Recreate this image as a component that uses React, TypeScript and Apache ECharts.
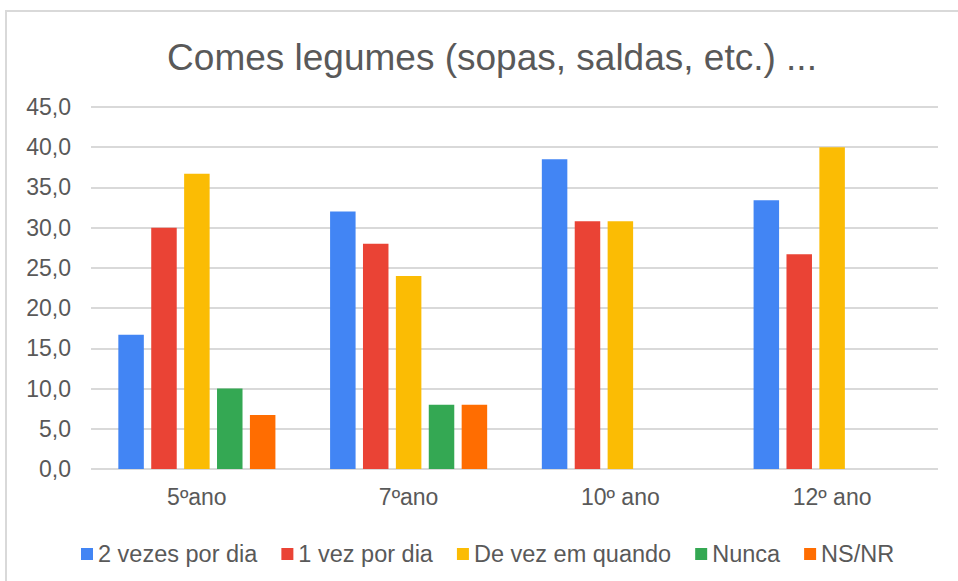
import React, { useEffect, useRef } from "react";
import * as echarts from "echarts";

const categories = ["5ºano", "7ºano", "10º ano", "12º ano"];
const seriesNames = ["2 vezes por dia", "1 vez por dia", "De vez em quando", "Nunca", "NS/NR"];
const duasVezes = [16.7, 32.0, 38.5, 33.4];
const umaVez = [30.0, 28.0, 30.8, 26.7];
const deVezEmQuando = [36.7, 24.0, 30.8, 40.0];
const nunca = [10.0, 8.0, null, null];
const nsnr = [6.7, 8.0, null, null];
const colors = ["#4285F4", "#EA4335", "#FBBC04", "#34A853", "#FF6D01"];
const titleText = "Comes legumes (sopas, saldas, etc.) ...";

export default function App() {
  const ref = useRef<HTMLDivElement>(null);
  useEffect(() => {
    if (!ref.current) return;
    const chart = echarts.init(ref.current, undefined, { renderer: "svg" });
    const values = [duasVezes, umaVez, deVezEmQuando, nunca, nsnr];
    const font = "Liberation Sans, Arial, sans-serif";
    chart.setOption({
      animation: false,
      backgroundColor: "#ffffff",
      color: colors,
      title: {
        text: titleText,
        left: 487,
        top: 34,
        textAlign: "center",
        textStyle: { fontFamily: font, fontSize: 37, fontWeight: "normal", color: "#595959" },
      },
      graphic: [
        { type: "line", shape: { x1: 6, y1: 11, x2: 6, y2: 581 }, style: { stroke: "#d9d9d9", lineWidth: 2 } },
        { type: "line", shape: { x1: 5, y1: 11, x2: 958, y2: 11 }, style: { stroke: "#d9d9d9", lineWidth: 2 } },
      ],
      grid: { left: 91, right: 20, top: 107, bottom: 112, containLabel: false },
      legend: {
        left: 76,
        top: 537,
        icon: "rect",
        itemWidth: 12,
        itemHeight: 12,
        itemGap: 24,
        textStyle: { fontFamily: font, fontSize: 23.5, color: "#595959" },
        data: seriesNames,
      },
      xAxis: {
        type: "category",
        data: categories,
        axisLine: { show: false },
        axisTick: { show: false },
        axisLabel: { fontFamily: font, fontSize: 23, color: "#595959", margin: 16 },
      },
      yAxis: {
        type: "value",
        min: 0,
        max: 45,
        interval: 5,
        axisLine: { show: false },
        axisTick: { show: false },
        splitLine: { lineStyle: { color: "#d9d9d9", width: 2 } },
        axisLabel: {
          fontFamily: font,
          fontSize: 23,
          color: "#595959",
          margin: 20,
          formatter: (v: number) => v.toFixed(1).replace(".", ","),
        },
      },
      series: seriesNames.map((name, i) => ({
        name,
        type: "bar",
        data: values[i],
        barWidth: 25.5,
        barGap: "29%",
        itemStyle: { color: colors[i] },
      })),
    });
    return () => chart.dispose();
  }, []);
  return (
    <div
      ref={ref}
      style={{ position: "absolute", left: 0, top: 0, width: 958, height: 581 }}
    />
  );
}
